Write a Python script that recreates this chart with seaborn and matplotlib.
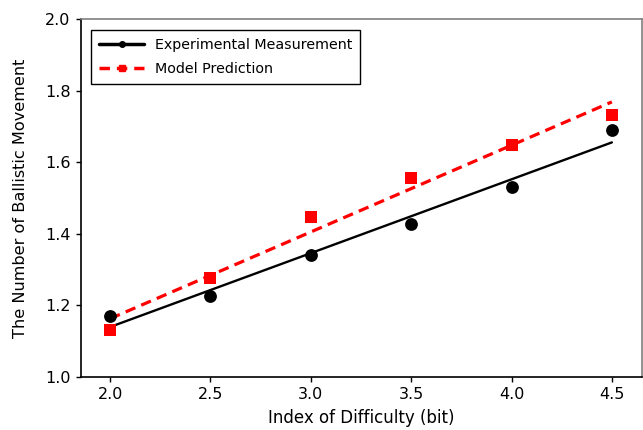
import numpy as np
import pandas as pd
import matplotlib
matplotlib.use('Agg')
import matplotlib.pyplot as plt
import matplotlib.ticker as mticker
import seaborn as sns
from matplotlib.lines import Line2D

# 데이터
difficulty = [2.0, 2.5, 3.0, 3.5, 4.0, 4.5]
measured = [1.170, 1.226, 1.340, 1.426, 1.532, 1.691]
predicted = [1.131, 1.276, 1.448, 1.557, 1.649, 1.733]

df = pd.DataFrame({'ID': difficulty, 'Measured': measured, 'Predicted': predicted})

sns.set_style('ticks')
plt.rcParams['font.family'] = ['DejaVu Sans']
plt.rcParams['text.color'] = 'black'
plt.rcParams['axes.labelcolor'] = 'black'

fig = plt.figure(figsize=(6.43, 4.30), dpi=100)
ax = fig.add_axes([0.126, 0.1233, 0.8724, 0.8325])

sns.regplot(data=df, x='ID', y='Measured', ax=ax, ci=None,
            scatter_kws={'color': 'black', 's': 85, 'alpha': 1, 'linewidths': 0, 'zorder': 3},
            line_kws={'color': 'black', 'lw': 1.7})
sns.regplot(data=df, x='ID', y='Predicted', ax=ax, ci=None, marker='s',
            scatter_kws={'color': 'red', 's': 68, 'alpha': 1, 'linewidths': 0, 'zorder': 3},
            line_kws={'color': 'red', 'lw': 2.3, 'ls': (0, (3.3, 2))})

ax.set_xlim(1.855, 4.65)
ax.set_ylim(1.0, 2.0)
ax.set_xticks([2.0, 2.5, 3.0, 3.5, 4.0, 4.5])
ax.set_yticks([1.0, 1.2, 1.4, 1.6, 1.8, 2.0])
ax.xaxis.set_major_formatter(mticker.FormatStrFormatter('%.1f'))
ax.yaxis.set_major_formatter(mticker.FormatStrFormatter('%.1f'))
ax.tick_params(labelsize=11.5, length=3.5, width=1, colors='black', pad=4)
ax.set_xlabel('Index of Difficulty (bit)', fontsize=12, labelpad=5)
ax.set_ylabel('The Number of Ballistic Movement', fontsize=11.6, labelpad=12)

for side in ['left', 'bottom']:
    ax.spines[side].set_color('black')
    ax.spines[side].set_linewidth(1.2)
for side in ['top', 'right']:
    ax.spines[side].set_visible(True)
    ax.spines[side].set_color('#7f7f7f')
    ax.spines[side].set_linewidth(1.2)

handles = [
    Line2D([0], [0], color='black', lw=2.5, marker='o', markersize=4),
    Line2D([0], [0], color='red', lw=2.5, ls=(0, (3, 2)), marker='s', markersize=4),
]
leg = ax.legend(handles, ['Experimental Measurement', 'Model Prediction'],
                loc='upper left', bbox_to_anchor=(0.018, 0.969), fontsize=10.3,
                frameon=True, fancybox=False, edgecolor='black', framealpha=1,
                handlelength=3.15, handletextpad=0.75, borderpad=0.55,
                labelspacing=0.7, borderaxespad=0)
leg.get_frame().set_linewidth(1.0)

fig.savefig('out.png', dpi=100)
